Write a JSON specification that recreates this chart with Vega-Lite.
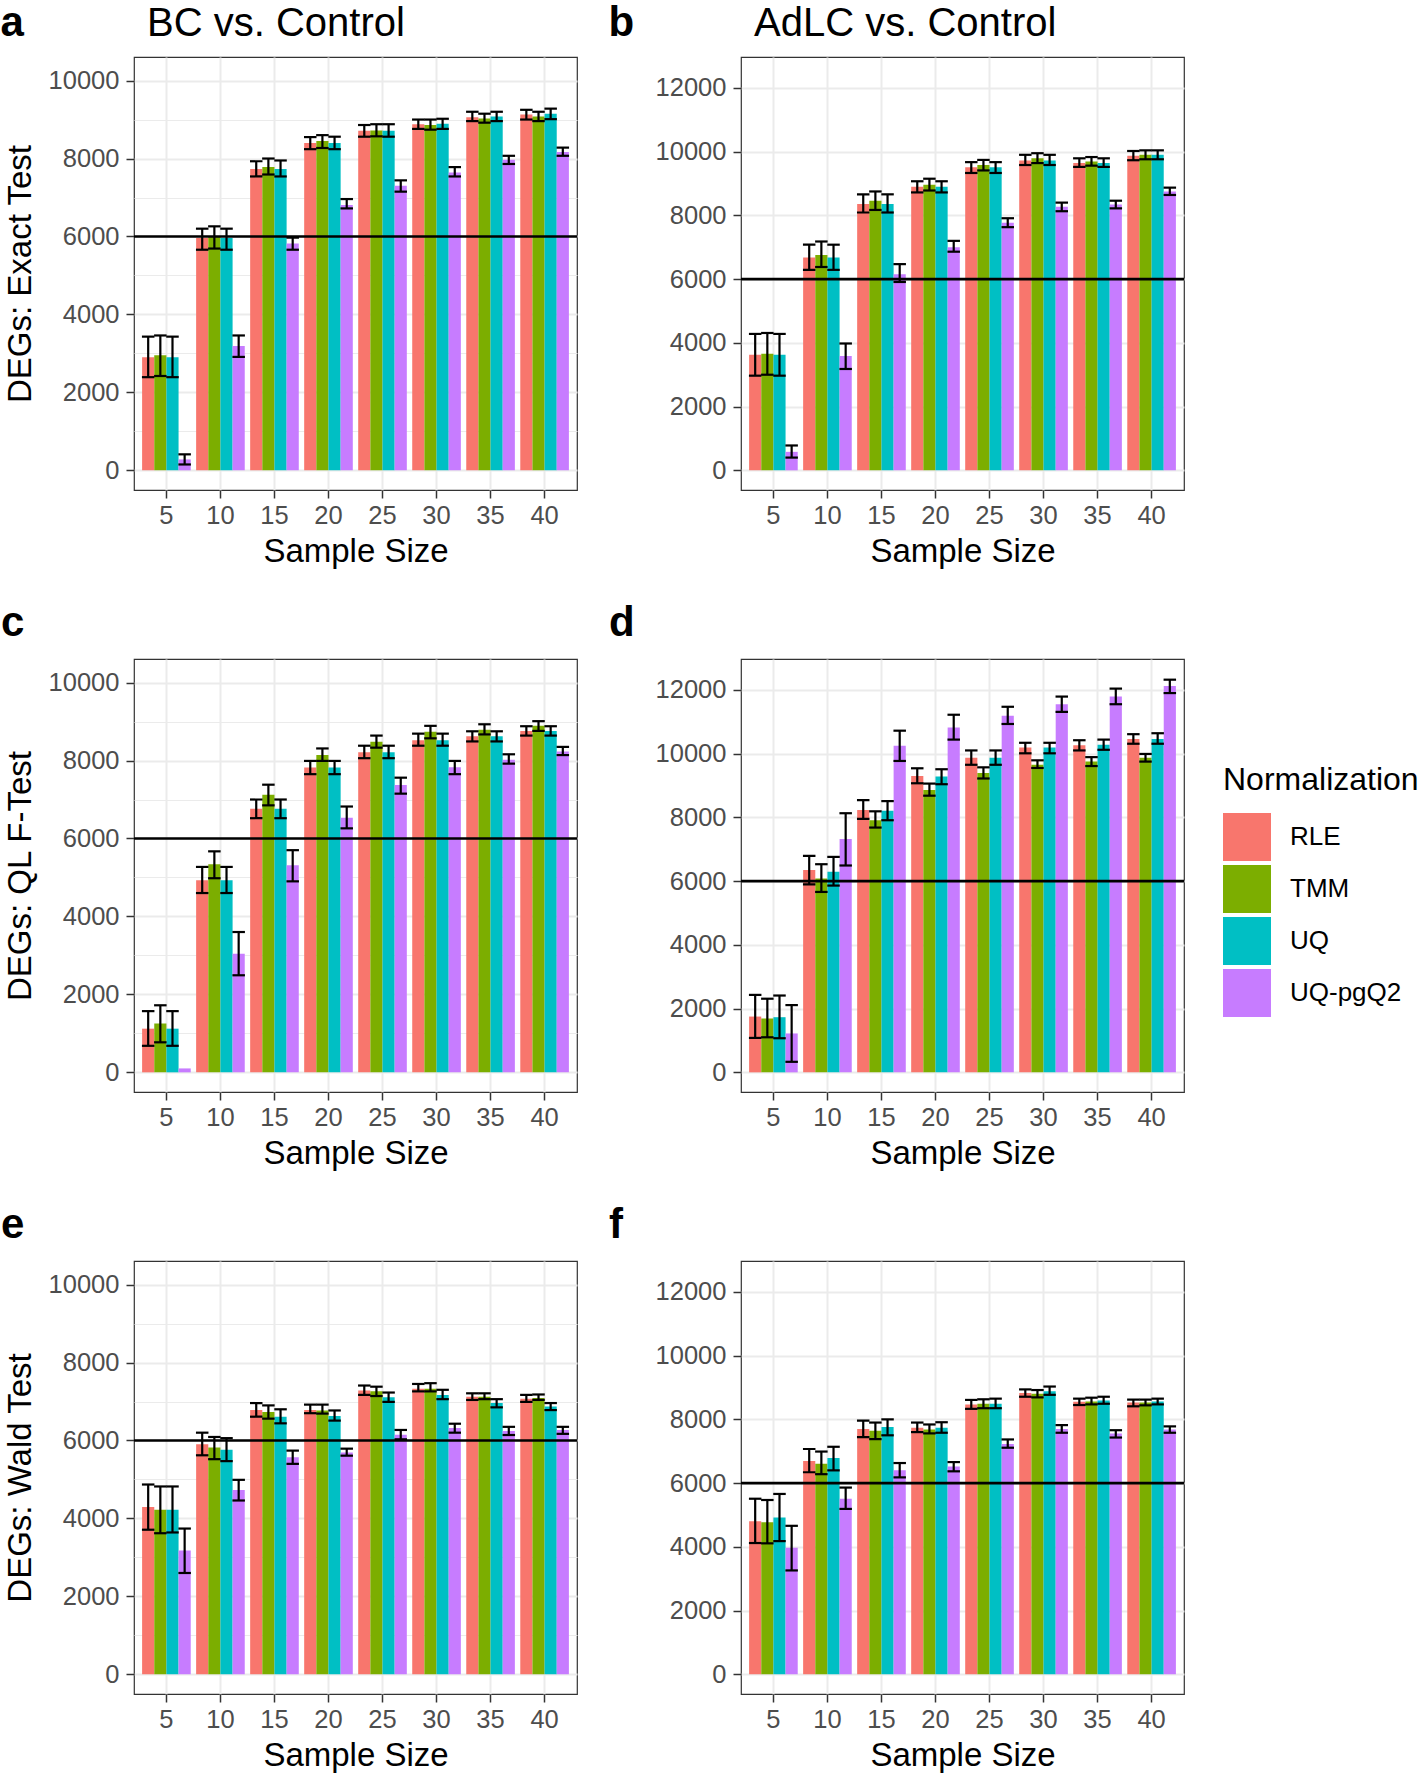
{
"$schema": "https://vega.github.io/schema/vega-lite/v6.json",
"padding": {"left": 0, "top": 2, "right": 0, "bottom": 0},
"background": "white",
"config": {
  "font": "Liberation Sans",
  "view": {"stroke": "#333333", "strokeWidth": 1.2},
  "axis": {"gridColor": "#EBEBEB", "tickColor": "#333333", "tickSize": 8, "tickWidth": 1.5, "labelFontSize": 25.5, "labelColor": "#4D4D4D", "labelPadding": 7, "titleFontSize": 33, "titleFontWeight": "normal", "titleColor": "black", "domain": false},
  "axisX": {"titlePadding": 7, "labelPadding": 5},
  "axisY": {"titlePadding": 11},
  "title": {"color": "black"}
},
"datasets": {
"deg": [
{"p":"a","n":5,"g":"RLE","m":2900,"lo":2390,"hi":3430},
{"p":"a","n":5,"g":"TMM","m":2950,"lo":2420,"hi":3460},
{"p":"a","n":5,"g":"UQ","m":2900,"lo":2390,"hi":3430},
{"p":"a","n":5,"g":"UQ-pgQ2","m":280,"lo":150,"hi":410},
{"p":"a","n":10,"g":"RLE","m":5960,"lo":5660,"hi":6200},
{"p":"a","n":10,"g":"TMM","m":6000,"lo":5690,"hi":6260},
{"p":"a","n":10,"g":"UQ","m":5960,"lo":5660,"hi":6200},
{"p":"a","n":10,"g":"UQ-pgQ2","m":3190,"lo":2910,"hi":3460},
{"p":"a","n":15,"g":"RLE","m":7730,"lo":7540,"hi":7930},
{"p":"a","n":15,"g":"TMM","m":7780,"lo":7590,"hi":8000},
{"p":"a","n":15,"g":"UQ","m":7730,"lo":7540,"hi":7950},
{"p":"a","n":15,"g":"UQ-pgQ2","m":5820,"lo":5660,"hi":5970},
{"p":"a","n":20,"g":"RLE","m":8400,"lo":8240,"hi":8550},
{"p":"a","n":20,"g":"TMM","m":8450,"lo":8270,"hi":8600},
{"p":"a","n":20,"g":"UQ","m":8400,"lo":8240,"hi":8560},
{"p":"a","n":20,"g":"UQ-pgQ2","m":6810,"lo":6720,"hi":6960},
{"p":"a","n":25,"g":"RLE","m":8710,"lo":8560,"hi":8860},
{"p":"a","n":25,"g":"TMM","m":8720,"lo":8570,"hi":8880},
{"p":"a","n":25,"g":"UQ","m":8710,"lo":8560,"hi":8880},
{"p":"a","n":25,"g":"UQ-pgQ2","m":7300,"lo":7150,"hi":7440},
{"p":"a","n":30,"g":"RLE","m":8880,"lo":8760,"hi":9000},
{"p":"a","n":30,"g":"TMM","m":8860,"lo":8740,"hi":9000},
{"p":"a","n":30,"g":"UQ","m":8890,"lo":8760,"hi":9020},
{"p":"a","n":30,"g":"UQ-pgQ2","m":7640,"lo":7540,"hi":7780},
{"p":"a","n":35,"g":"RLE","m":9060,"lo":8960,"hi":9200},
{"p":"a","n":35,"g":"TMM","m":9030,"lo":8920,"hi":9150},
{"p":"a","n":35,"g":"UQ","m":9080,"lo":8960,"hi":9200},
{"p":"a","n":35,"g":"UQ-pgQ2","m":7970,"lo":7860,"hi":8070},
{"p":"a","n":40,"g":"RLE","m":9130,"lo":9000,"hi":9250},
{"p":"a","n":40,"g":"TMM","m":9080,"lo":8960,"hi":9200},
{"p":"a","n":40,"g":"UQ","m":9150,"lo":9010,"hi":9280},
{"p":"a","n":40,"g":"UQ-pgQ2","m":8170,"lo":8070,"hi":8280},
{"p":"b","n":5,"g":"RLE","m":3630,"lo":2970,"hi":4280},
{"p":"b","n":5,"g":"TMM","m":3660,"lo":3000,"hi":4310},
{"p":"b","n":5,"g":"UQ","m":3630,"lo":2970,"hi":4280},
{"p":"b","n":5,"g":"UQ-pgQ2","m":580,"lo":400,"hi":780},
{"p":"b","n":10,"g":"RLE","m":6680,"lo":6290,"hi":7080},
{"p":"b","n":10,"g":"TMM","m":6760,"lo":6380,"hi":7180},
{"p":"b","n":10,"g":"UQ","m":6680,"lo":6290,"hi":7080},
{"p":"b","n":10,"g":"UQ-pgQ2","m":3590,"lo":3180,"hi":3980},
{"p":"b","n":15,"g":"RLE","m":8360,"lo":8090,"hi":8660},
{"p":"b","n":15,"g":"TMM","m":8460,"lo":8170,"hi":8750},
{"p":"b","n":15,"g":"UQ","m":8360,"lo":8090,"hi":8660},
{"p":"b","n":15,"g":"UQ-pgQ2","m":6150,"lo":5910,"hi":6470},
{"p":"b","n":20,"g":"RLE","m":8900,"lo":8720,"hi":9070},
{"p":"b","n":20,"g":"TMM","m":8960,"lo":8780,"hi":9150},
{"p":"b","n":20,"g":"UQ","m":8900,"lo":8720,"hi":9070},
{"p":"b","n":20,"g":"UQ-pgQ2","m":7000,"lo":6860,"hi":7200},
{"p":"b","n":25,"g":"RLE","m":9510,"lo":9330,"hi":9670},
{"p":"b","n":25,"g":"TMM","m":9580,"lo":9410,"hi":9740},
{"p":"b","n":25,"g":"UQ","m":9510,"lo":9330,"hi":9670},
{"p":"b","n":25,"g":"UQ-pgQ2","m":7770,"lo":7630,"hi":7910},
{"p":"b","n":30,"g":"RLE","m":9720,"lo":9580,"hi":9900},
{"p":"b","n":30,"g":"TMM","m":9790,"lo":9640,"hi":9950},
{"p":"b","n":30,"g":"UQ","m":9720,"lo":9580,"hi":9900},
{"p":"b","n":30,"g":"UQ-pgQ2","m":8270,"lo":8130,"hi":8400},
{"p":"b","n":35,"g":"RLE","m":9640,"lo":9520,"hi":9790},
{"p":"b","n":35,"g":"TMM","m":9690,"lo":9560,"hi":9830},
{"p":"b","n":35,"g":"UQ","m":9640,"lo":9520,"hi":9790},
{"p":"b","n":35,"g":"UQ-pgQ2","m":8340,"lo":8220,"hi":8460},
{"p":"b","n":40,"g":"RLE","m":9870,"lo":9730,"hi":10020},
{"p":"b","n":40,"g":"TMM","m":9900,"lo":9760,"hi":10040},
{"p":"b","n":40,"g":"UQ","m":9900,"lo":9760,"hi":10040},
{"p":"b","n":40,"g":"UQ-pgQ2","m":8750,"lo":8640,"hi":8870},
{"p":"c","n":5,"g":"RLE","m":1120,"lo":680,"hi":1570},
{"p":"c","n":5,"g":"TMM","m":1250,"lo":770,"hi":1720},
{"p":"c","n":5,"g":"UQ","m":1120,"lo":680,"hi":1570},
{"p":"c","n":5,"g":"UQ-pgQ2","m":100,"lo":null,"hi":null},
{"p":"c","n":10,"g":"RLE","m":4930,"lo":4600,"hi":5270},
{"p":"c","n":10,"g":"TMM","m":5340,"lo":4980,"hi":5670},
{"p":"c","n":10,"g":"UQ","m":4930,"lo":4600,"hi":5270},
{"p":"c","n":10,"g":"UQ-pgQ2","m":3040,"lo":2490,"hi":3600},
{"p":"c","n":15,"g":"RLE","m":6760,"lo":6520,"hi":7000},
{"p":"c","n":15,"g":"TMM","m":7120,"lo":6850,"hi":7380},
{"p":"c","n":15,"g":"UQ","m":6760,"lo":6520,"hi":7000},
{"p":"c","n":15,"g":"UQ-pgQ2","m":5310,"lo":4900,"hi":5700},
{"p":"c","n":20,"g":"RLE","m":7820,"lo":7650,"hi":7990},
{"p":"c","n":20,"g":"TMM","m":8140,"lo":7990,"hi":8310},
{"p":"c","n":20,"g":"UQ","m":7820,"lo":7650,"hi":7990},
{"p":"c","n":20,"g":"UQ-pgQ2","m":6530,"lo":6260,"hi":6820},
{"p":"c","n":25,"g":"RLE","m":8210,"lo":8060,"hi":8380},
{"p":"c","n":25,"g":"TMM","m":8480,"lo":8330,"hi":8640},
{"p":"c","n":25,"g":"UQ","m":8210,"lo":8060,"hi":8380},
{"p":"c","n":25,"g":"UQ-pgQ2","m":7370,"lo":7150,"hi":7560},
{"p":"c","n":30,"g":"RLE","m":8520,"lo":8380,"hi":8690},
{"p":"c","n":30,"g":"TMM","m":8740,"lo":8570,"hi":8890},
{"p":"c","n":30,"g":"UQ","m":8520,"lo":8380,"hi":8690},
{"p":"c","n":30,"g":"UQ-pgQ2","m":7830,"lo":7650,"hi":7990},
{"p":"c","n":35,"g":"RLE","m":8620,"lo":8490,"hi":8750},
{"p":"c","n":35,"g":"TMM","m":8790,"lo":8670,"hi":8930},
{"p":"c","n":35,"g":"UQ","m":8620,"lo":8490,"hi":8750},
{"p":"c","n":35,"g":"UQ-pgQ2","m":8020,"lo":7920,"hi":8160},
{"p":"c","n":40,"g":"RLE","m":8760,"lo":8640,"hi":8880},
{"p":"c","n":40,"g":"TMM","m":8890,"lo":8760,"hi":9010},
{"p":"c","n":40,"g":"UQ","m":8760,"lo":8640,"hi":8880},
{"p":"c","n":40,"g":"UQ-pgQ2","m":8230,"lo":8140,"hi":8350},
{"p":"d","n":5,"g":"RLE","m":1750,"lo":1080,"hi":2430},
{"p":"d","n":5,"g":"TMM","m":1690,"lo":1100,"hi":2310},
{"p":"d","n":5,"g":"UQ","m":1730,"lo":1070,"hi":2410},
{"p":"d","n":5,"g":"UQ-pgQ2","m":1220,"lo":330,"hi":2110},
{"p":"d","n":10,"g":"RLE","m":6350,"lo":5900,"hi":6790},
{"p":"d","n":10,"g":"TMM","m":6080,"lo":5660,"hi":6530},
{"p":"d","n":10,"g":"UQ","m":6290,"lo":5860,"hi":6760},
{"p":"d","n":10,"g":"UQ-pgQ2","m":7320,"lo":6490,"hi":8130},
{"p":"d","n":15,"g":"RLE","m":8230,"lo":7950,"hi":8540},
{"p":"d","n":15,"g":"TMM","m":7910,"lo":7680,"hi":8190},
{"p":"d","n":15,"g":"UQ","m":8210,"lo":7910,"hi":8510},
{"p":"d","n":15,"g":"UQ-pgQ2","m":10250,"lo":9770,"hi":10720},
{"p":"d","n":20,"g":"RLE","m":9300,"lo":9070,"hi":9540},
{"p":"d","n":20,"g":"TMM","m":8860,"lo":8680,"hi":9060},
{"p":"d","n":20,"g":"UQ","m":9280,"lo":9040,"hi":9510},
{"p":"d","n":20,"g":"UQ-pgQ2","m":10820,"lo":10440,"hi":11220},
{"p":"d","n":25,"g":"RLE","m":9870,"lo":9650,"hi":10100},
{"p":"d","n":25,"g":"TMM","m":9390,"lo":9220,"hi":9570},
{"p":"d","n":25,"g":"UQ","m":9870,"lo":9650,"hi":10100},
{"p":"d","n":25,"g":"UQ-pgQ2","m":11190,"lo":10930,"hi":11470},
{"p":"d","n":30,"g":"RLE","m":10190,"lo":10010,"hi":10340},
{"p":"d","n":30,"g":"TMM","m":9650,"lo":9550,"hi":9790},
{"p":"d","n":30,"g":"UQ","m":10190,"lo":10010,"hi":10340},
{"p":"d","n":30,"g":"UQ-pgQ2","m":11550,"lo":11310,"hi":11790},
{"p":"d","n":35,"g":"RLE","m":10260,"lo":10100,"hi":10420},
{"p":"d","n":35,"g":"TMM","m":9750,"lo":9610,"hi":9890},
{"p":"d","n":35,"g":"UQ","m":10280,"lo":10120,"hi":10440},
{"p":"d","n":35,"g":"UQ-pgQ2","m":11790,"lo":11550,"hi":12040},
{"p":"d","n":40,"g":"RLE","m":10460,"lo":10310,"hi":10610},
{"p":"d","n":40,"g":"TMM","m":9870,"lo":9750,"hi":9990},
{"p":"d","n":40,"g":"UQ","m":10460,"lo":10310,"hi":10640},
{"p":"d","n":40,"g":"UQ-pgQ2","m":12120,"lo":11900,"hi":12320},
{"p":"e","n":5,"g":"RLE","m":4290,"lo":3710,"hi":4870},
{"p":"e","n":5,"g":"TMM","m":4220,"lo":3620,"hi":4820},
{"p":"e","n":5,"g":"UQ","m":4220,"lo":3640,"hi":4820},
{"p":"e","n":5,"g":"UQ-pgQ2","m":3180,"lo":2600,"hi":3740},
{"p":"e","n":10,"g":"RLE","m":5900,"lo":5620,"hi":6200},
{"p":"e","n":10,"g":"TMM","m":5820,"lo":5520,"hi":6090},
{"p":"e","n":10,"g":"UQ","m":5760,"lo":5470,"hi":6060},
{"p":"e","n":10,"g":"UQ-pgQ2","m":4730,"lo":4460,"hi":4990},
{"p":"e","n":15,"g":"RLE","m":6780,"lo":6610,"hi":6960},
{"p":"e","n":15,"g":"TMM","m":6730,"lo":6560,"hi":6900},
{"p":"e","n":15,"g":"UQ","m":6610,"lo":6440,"hi":6800},
{"p":"e","n":15,"g":"UQ-pgQ2","m":5570,"lo":5400,"hi":5740},
{"p":"e","n":20,"g":"RLE","m":6780,"lo":6700,"hi":6920},
{"p":"e","n":20,"g":"TMM","m":6770,"lo":6690,"hi":6920},
{"p":"e","n":20,"g":"UQ","m":6630,"lo":6510,"hi":6770},
{"p":"e","n":20,"g":"UQ-pgQ2","m":5690,"lo":5610,"hi":5790},
{"p":"e","n":25,"g":"RLE","m":7280,"lo":7170,"hi":7410},
{"p":"e","n":25,"g":"TMM","m":7260,"lo":7140,"hi":7380},
{"p":"e","n":25,"g":"UQ","m":7110,"lo":6990,"hi":7230},
{"p":"e","n":25,"g":"UQ-pgQ2","m":6150,"lo":6030,"hi":6270},
{"p":"e","n":30,"g":"RLE","m":7330,"lo":7260,"hi":7450},
{"p":"e","n":30,"g":"TMM","m":7330,"lo":7260,"hi":7470},
{"p":"e","n":30,"g":"UQ","m":7170,"lo":7060,"hi":7300},
{"p":"e","n":30,"g":"UQ-pgQ2","m":6320,"lo":6200,"hi":6430},
{"p":"e","n":35,"g":"RLE","m":7120,"lo":7040,"hi":7210},
{"p":"e","n":35,"g":"TMM","m":7120,"lo":7060,"hi":7210},
{"p":"e","n":35,"g":"UQ","m":6960,"lo":6850,"hi":7060},
{"p":"e","n":35,"g":"UQ-pgQ2","m":6240,"lo":6140,"hi":6350},
{"p":"e","n":40,"g":"RLE","m":7070,"lo":6990,"hi":7170},
{"p":"e","n":40,"g":"TMM","m":7090,"lo":7040,"hi":7180},
{"p":"e","n":40,"g":"UQ","m":6870,"lo":6780,"hi":6960},
{"p":"e","n":40,"g":"UQ-pgQ2","m":6270,"lo":6170,"hi":6350},
{"p":"f","n":5,"g":"RLE","m":4800,"lo":4120,"hi":5510},
{"p":"f","n":5,"g":"TMM","m":4770,"lo":4110,"hi":5470},
{"p":"f","n":5,"g":"UQ","m":4920,"lo":4180,"hi":5660},
{"p":"f","n":5,"g":"UQ-pgQ2","m":3970,"lo":3260,"hi":4660},
{"p":"f","n":10,"g":"RLE","m":6690,"lo":6340,"hi":7070},
{"p":"f","n":10,"g":"TMM","m":6610,"lo":6280,"hi":6990},
{"p":"f","n":10,"g":"UQ","m":6790,"lo":6400,"hi":7140},
{"p":"f","n":10,"g":"UQ-pgQ2","m":5510,"lo":5190,"hi":5860},
{"p":"f","n":15,"g":"RLE","m":7700,"lo":7440,"hi":7960},
{"p":"f","n":15,"g":"TMM","m":7640,"lo":7380,"hi":7900},
{"p":"f","n":15,"g":"UQ","m":7760,"lo":7500,"hi":8000},
{"p":"f","n":15,"g":"UQ-pgQ2","m":6400,"lo":6180,"hi":6630},
{"p":"f","n":20,"g":"RLE","m":7740,"lo":7600,"hi":7900},
{"p":"f","n":20,"g":"TMM","m":7680,"lo":7560,"hi":7840},
{"p":"f","n":20,"g":"UQ","m":7740,"lo":7580,"hi":7910},
{"p":"f","n":20,"g":"UQ-pgQ2","m":6520,"lo":6370,"hi":6660},
{"p":"f","n":25,"g":"RLE","m":8470,"lo":8330,"hi":8610},
{"p":"f","n":25,"g":"TMM","m":8490,"lo":8350,"hi":8630},
{"p":"f","n":25,"g":"UQ","m":8490,"lo":8350,"hi":8650},
{"p":"f","n":25,"g":"UQ-pgQ2","m":7230,"lo":7110,"hi":7370},
{"p":"f","n":30,"g":"RLE","m":8830,"lo":8710,"hi":8940},
{"p":"f","n":30,"g":"TMM","m":8800,"lo":8690,"hi":8920},
{"p":"f","n":30,"g":"UQ","m":8880,"lo":8770,"hi":9030},
{"p":"f","n":30,"g":"UQ-pgQ2","m":7700,"lo":7580,"hi":7820},
{"p":"f","n":35,"g":"RLE","m":8550,"lo":8450,"hi":8650},
{"p":"f","n":35,"g":"TMM","m":8560,"lo":8470,"hi":8680},
{"p":"f","n":35,"g":"UQ","m":8590,"lo":8490,"hi":8710},
{"p":"f","n":35,"g":"UQ-pgQ2","m":7560,"lo":7430,"hi":7660},
{"p":"f","n":40,"g":"RLE","m":8530,"lo":8410,"hi":8620},
{"p":"f","n":40,"g":"TMM","m":8530,"lo":8440,"hi":8620},
{"p":"f","n":40,"g":"UQ","m":8560,"lo":8470,"hi":8650},
{"p":"f","n":40,"g":"UQ-pgQ2","m":7680,"lo":7580,"hi":7780}
]
},
"spacing": 31,
"vconcat": [
{
"spacing": 29,
"hconcat": [
{
"title": {"text": "a", "anchor": "start", "frame": "bounds", "fontSize": 42, "fontWeight": "bold", "baseline": "alphabetic", "offset": -75, "dx": -3},
"vconcat": [
{
"width": 443, "height": 433,
"title": {"text": "BC vs. Control", "anchor": "start", "frame": "group", "fontSize": 40, "fontWeight": "normal", "baseline": "alphabetic", "offset": -19, "dx": 13},
"data": {"name": "deg"},
"layer": [
{"transform": [{"filter": "datum.p === 'a'"}], "mark": {"type": "bar"},
 "encoding": {
  "x": {"field": "n", "type": "ordinal", "title": "Sample Size", "scale": {"type": "band", "paddingInner": 0.1, "paddingOuter": 0.15}, "axis": {"labelAngle": 0, "bandPosition": 0.5, "grid": true, "gridWidth": 2}},
  "xOffset": {"field": "g", "type": "nominal", "scale": {"domain": ["RLE","TMM","UQ","UQ-pgQ2"], "paddingInner": 0, "paddingOuter": 0}},
  "y": {"field": "m", "type": "quantitative", "title": "DEGs: Exact Test", "scale": {"domain": [-505, 10605], "nice": false}, "axis": {"values": [0,1000,2000,3000,4000,5000,6000,7000,8000,9000,10000], "format": "d", "labelExpr": "datum.value % 2000 === 0 ? datum.label : ''", "grid": true, "gridWidth": {"condition": {"test": "datum.value % 2000 !== 0", "value": 1}, "value": 2}, "tickOpacity": {"condition": {"test": "datum.value % 2000 !== 0", "value": 0}, "value": 1}}},
  "y2": {"datum": 0},
  "color": {"field": "g", "type": "nominal", "scale": {"domain": ["RLE","TMM","UQ","UQ-pgQ2"], "range": ["#F8766D","#7CAE00","#00BFC4","#C77CFF"]}}
 }},
{"data": {"values": [{"v": 6000}]}, "mark": {"type": "rule", "color": "black", "strokeWidth": 2.6},
 "encoding": {"y": {"field": "v", "type": "quantitative", "title": "DEGs: Exact Test"}}},
{"transform": [{"filter": "datum.p === 'a'"}], "mark": {"type": "rule", "color": "black", "strokeWidth": 2.2},
 "encoding": {
  "x": {"field": "n", "type": "ordinal", "title": "Sample Size", "scale": {"type": "band"}},
  "xOffset": {"field": "g", "type": "nominal"},
  "y": {"field": "lo", "type": "quantitative", "title": "DEGs: Exact Test"}, "y2": {"field": "hi"}}},
{"transform": [{"filter": "datum.p === 'a'"}], "mark": {"type": "tick", "orient": "horizontal", "color": "black", "size": 12.5, "thickness": 2.2, "opacity": 1},
 "encoding": {
  "x": {"field": "n", "type": "ordinal", "title": "Sample Size", "scale": {"type": "band"}},
  "xOffset": {"field": "g", "type": "nominal"},
  "y": {"field": "hi", "type": "quantitative", "title": "DEGs: Exact Test"}}},
{"transform": [{"filter": "datum.p === 'a'"}], "mark": {"type": "tick", "orient": "horizontal", "color": "black", "size": 12.5, "thickness": 2.2, "opacity": 1},
 "encoding": {
  "x": {"field": "n", "type": "ordinal", "title": "Sample Size", "scale": {"type": "band"}},
  "xOffset": {"field": "g", "type": "nominal"},
  "y": {"field": "lo", "type": "quantitative", "title": "DEGs: Exact Test"}}}
]
}
]
},
{
"title": {"text": "b", "anchor": "start", "frame": "bounds", "fontSize": 42, "fontWeight": "bold", "baseline": "alphabetic", "offset": -75, "dx": -46},
"vconcat": [
{
"width": 443, "height": 433,
"title": {"text": "AdLC vs. Control", "anchor": "start", "frame": "group", "fontSize": 40, "fontWeight": "normal", "baseline": "alphabetic", "offset": -19, "dx": 13},
"data": {"name": "deg"},
"layer": [
{"transform": [{"filter": "datum.p === 'b'"}], "mark": {"type": "bar"},
 "encoding": {
  "x": {"field": "n", "type": "ordinal", "title": "Sample Size", "scale": {"type": "band", "paddingInner": 0.1, "paddingOuter": 0.15}, "axis": {"labelAngle": 0, "bandPosition": 0.5, "grid": true, "gridWidth": 2}},
  "xOffset": {"field": "g", "type": "nominal", "scale": {"domain": ["RLE","TMM","UQ","UQ-pgQ2"], "paddingInner": 0, "paddingOuter": 0}},
  "y": {"field": "m", "type": "quantitative", "title": null, "scale": {"domain": [-617, 12969], "nice": false}, "axis": {"values": [0,1000,2000,3000,4000,5000,6000,7000,8000,9000,10000,11000,12000], "format": "d", "labelExpr": "datum.value % 2000 === 0 ? datum.label : ''", "grid": true, "gridWidth": {"condition": {"test": "datum.value % 2000 !== 0", "value": 1}, "value": 2}, "tickOpacity": {"condition": {"test": "datum.value % 2000 !== 0", "value": 0}, "value": 1}}},
  "y2": {"datum": 0},
  "color": {"field": "g", "type": "nominal", "scale": {"domain": ["RLE","TMM","UQ","UQ-pgQ2"], "range": ["#F8766D","#7CAE00","#00BFC4","#C77CFF"]}}
 }},
{"data": {"values": [{"v": 6000}]}, "mark": {"type": "rule", "color": "black", "strokeWidth": 2.6},
 "encoding": {"y": {"field": "v", "type": "quantitative", "title": null}}},
{"transform": [{"filter": "datum.p === 'b'"}], "mark": {"type": "rule", "color": "black", "strokeWidth": 2.2},
 "encoding": {
  "x": {"field": "n", "type": "ordinal", "title": "Sample Size", "scale": {"type": "band"}},
  "xOffset": {"field": "g", "type": "nominal"},
  "y": {"field": "lo", "type": "quantitative", "title": null}, "y2": {"field": "hi"}}},
{"transform": [{"filter": "datum.p === 'b'"}], "mark": {"type": "tick", "orient": "horizontal", "color": "black", "size": 12.5, "thickness": 2.2, "opacity": 1},
 "encoding": {
  "x": {"field": "n", "type": "ordinal", "title": "Sample Size", "scale": {"type": "band"}},
  "xOffset": {"field": "g", "type": "nominal"},
  "y": {"field": "hi", "type": "quantitative", "title": null}}},
{"transform": [{"filter": "datum.p === 'b'"}], "mark": {"type": "tick", "orient": "horizontal", "color": "black", "size": 12.5, "thickness": 2.2, "opacity": 1},
 "encoding": {
  "x": {"field": "n", "type": "ordinal", "title": "Sample Size", "scale": {"type": "band"}},
  "xOffset": {"field": "g", "type": "nominal"},
  "y": {"field": "lo", "type": "quantitative", "title": null}}}
]
}
]
}
]
},
{
"spacing": 29,
"hconcat": [
{
"width": 443, "height": 433,
"title": {"text": "c", "anchor": "start", "frame": "bounds", "fontSize": 42, "fontWeight": "bold", "baseline": "alphabetic", "offset": -19, "dx": -3},
"data": {"name": "deg"},
"layer": [
{"transform": [{"filter": "datum.p === 'c'"}], "mark": {"type": "bar"},
 "encoding": {
  "x": {"field": "n", "type": "ordinal", "title": "Sample Size", "scale": {"type": "band", "paddingInner": 0.1, "paddingOuter": 0.15}, "axis": {"labelAngle": 0, "bandPosition": 0.5, "grid": true, "gridWidth": 2}},
  "xOffset": {"field": "g", "type": "nominal", "scale": {"domain": ["RLE","TMM","UQ","UQ-pgQ2"], "paddingInner": 0, "paddingOuter": 0}},
  "y": {"field": "m", "type": "quantitative", "title": "DEGs: QL F-Test", "scale": {"domain": [-505, 10605], "nice": false}, "axis": {"values": [0,1000,2000,3000,4000,5000,6000,7000,8000,9000,10000], "format": "d", "labelExpr": "datum.value % 2000 === 0 ? datum.label : ''", "grid": true, "gridWidth": {"condition": {"test": "datum.value % 2000 !== 0", "value": 1}, "value": 2}, "tickOpacity": {"condition": {"test": "datum.value % 2000 !== 0", "value": 0}, "value": 1}}},
  "y2": {"datum": 0},
  "color": {"field": "g", "type": "nominal", "scale": {"domain": ["RLE","TMM","UQ","UQ-pgQ2"], "range": ["#F8766D","#7CAE00","#00BFC4","#C77CFF"]}}
 }},
{"data": {"values": [{"v": 6000}]}, "mark": {"type": "rule", "color": "black", "strokeWidth": 2.6},
 "encoding": {"y": {"field": "v", "type": "quantitative", "title": "DEGs: QL F-Test"}}},
{"transform": [{"filter": "datum.p === 'c' && datum.lo != null"}], "mark": {"type": "rule", "color": "black", "strokeWidth": 2.2},
 "encoding": {
  "x": {"field": "n", "type": "ordinal", "title": "Sample Size", "scale": {"type": "band"}},
  "xOffset": {"field": "g", "type": "nominal"},
  "y": {"field": "lo", "type": "quantitative", "title": "DEGs: QL F-Test"}, "y2": {"field": "hi"}}},
{"transform": [{"filter": "datum.p === 'c' && datum.lo != null"}], "mark": {"type": "tick", "orient": "horizontal", "color": "black", "size": 12.5, "thickness": 2.2, "opacity": 1},
 "encoding": {
  "x": {"field": "n", "type": "ordinal", "title": "Sample Size", "scale": {"type": "band"}},
  "xOffset": {"field": "g", "type": "nominal"},
  "y": {"field": "hi", "type": "quantitative", "title": "DEGs: QL F-Test"}}},
{"transform": [{"filter": "datum.p === 'c' && datum.lo != null"}], "mark": {"type": "tick", "orient": "horizontal", "color": "black", "size": 12.5, "thickness": 2.2, "opacity": 1},
 "encoding": {
  "x": {"field": "n", "type": "ordinal", "title": "Sample Size", "scale": {"type": "band"}},
  "xOffset": {"field": "g", "type": "nominal"},
  "y": {"field": "lo", "type": "quantitative", "title": "DEGs: QL F-Test"}}}
]
},
{
"width": 443, "height": 433,
"title": {"text": "d", "anchor": "start", "frame": "bounds", "fontSize": 42, "fontWeight": "bold", "baseline": "alphabetic", "offset": -19, "dx": -46},
"data": {"name": "deg"},
"layer": [
{"transform": [{"filter": "datum.p === 'd'"}], "mark": {"type": "bar"},
 "encoding": {
  "x": {"field": "n", "type": "ordinal", "title": "Sample Size", "scale": {"type": "band", "paddingInner": 0.1, "paddingOuter": 0.15}, "axis": {"labelAngle": 0, "bandPosition": 0.5, "grid": true, "gridWidth": 2}},
  "xOffset": {"field": "g", "type": "nominal", "scale": {"domain": ["RLE","TMM","UQ","UQ-pgQ2"], "paddingInner": 0, "paddingOuter": 0}},
  "y": {"field": "m", "type": "quantitative", "title": null, "scale": {"domain": [-617, 12969], "nice": false}, "axis": {"values": [0,1000,2000,3000,4000,5000,6000,7000,8000,9000,10000,11000,12000], "format": "d", "labelExpr": "datum.value % 2000 === 0 ? datum.label : ''", "grid": true, "gridWidth": {"condition": {"test": "datum.value % 2000 !== 0", "value": 1}, "value": 2}, "tickOpacity": {"condition": {"test": "datum.value % 2000 !== 0", "value": 0}, "value": 1}}},
  "y2": {"datum": 0},
  "color": {"field": "g", "type": "nominal", "scale": {"domain": ["RLE","TMM","UQ","UQ-pgQ2"], "range": ["#F8766D","#7CAE00","#00BFC4","#C77CFF"]},
    "legend": {"title": "Normalization", "orient": "none", "legendX": 1089, "legendY": 708, "symbolType": "square", "symbolSize": 2304, "symbolStrokeWidth": 0, "symbolOpacity": 1, "labelFontSize": 26, "labelColor": "black", "labelOffset": 19, "titleFontSize": 32, "titleFontWeight": "normal", "titleColor": "black", "titlePadding": 16, "titleLimit": 500, "rowPadding": 4, "padding": 0}}
 }},
{"data": {"values": [{"v": 6000}]}, "mark": {"type": "rule", "color": "black", "strokeWidth": 2.6},
 "encoding": {"y": {"field": "v", "type": "quantitative", "title": null}}},
{"transform": [{"filter": "datum.p === 'd'"}], "mark": {"type": "rule", "color": "black", "strokeWidth": 2.2},
 "encoding": {
  "x": {"field": "n", "type": "ordinal", "title": "Sample Size", "scale": {"type": "band"}},
  "xOffset": {"field": "g", "type": "nominal"},
  "y": {"field": "lo", "type": "quantitative", "title": null}, "y2": {"field": "hi"}}},
{"transform": [{"filter": "datum.p === 'd'"}], "mark": {"type": "tick", "orient": "horizontal", "color": "black", "size": 12.5, "thickness": 2.2, "opacity": 1},
 "encoding": {
  "x": {"field": "n", "type": "ordinal", "title": "Sample Size", "scale": {"type": "band"}},
  "xOffset": {"field": "g", "type": "nominal"},
  "y": {"field": "hi", "type": "quantitative", "title": null}}},
{"transform": [{"filter": "datum.p === 'd'"}], "mark": {"type": "tick", "orient": "horizontal", "color": "black", "size": 12.5, "thickness": 2.2, "opacity": 1},
 "encoding": {
  "x": {"field": "n", "type": "ordinal", "title": "Sample Size", "scale": {"type": "band"}},
  "xOffset": {"field": "g", "type": "nominal"},
  "y": {"field": "lo", "type": "quantitative", "title": null}}}
]
}
]
},
{
"spacing": 29,
"hconcat": [
{
"width": 443, "height": 433,
"title": {"text": "e", "anchor": "start", "frame": "bounds", "fontSize": 42, "fontWeight": "bold", "baseline": "alphabetic", "offset": -19, "dx": -3},
"data": {"name": "deg"},
"layer": [
{"transform": [{"filter": "datum.p === 'e'"}], "mark": {"type": "bar"},
 "encoding": {
  "x": {"field": "n", "type": "ordinal", "title": "Sample Size", "scale": {"type": "band", "paddingInner": 0.1, "paddingOuter": 0.15}, "axis": {"labelAngle": 0, "bandPosition": 0.5, "grid": true, "gridWidth": 2}},
  "xOffset": {"field": "g", "type": "nominal", "scale": {"domain": ["RLE","TMM","UQ","UQ-pgQ2"], "paddingInner": 0, "paddingOuter": 0}},
  "y": {"field": "m", "type": "quantitative", "title": "DEGs: Wald Test", "scale": {"domain": [-505, 10605], "nice": false}, "axis": {"values": [0,1000,2000,3000,4000,5000,6000,7000,8000,9000,10000], "format": "d", "labelExpr": "datum.value % 2000 === 0 ? datum.label : ''", "grid": true, "gridWidth": {"condition": {"test": "datum.value % 2000 !== 0", "value": 1}, "value": 2}, "tickOpacity": {"condition": {"test": "datum.value % 2000 !== 0", "value": 0}, "value": 1}}},
  "y2": {"datum": 0},
  "color": {"field": "g", "type": "nominal", "scale": {"domain": ["RLE","TMM","UQ","UQ-pgQ2"], "range": ["#F8766D","#7CAE00","#00BFC4","#C77CFF"]}}
 }},
{"data": {"values": [{"v": 6000}]}, "mark": {"type": "rule", "color": "black", "strokeWidth": 2.6},
 "encoding": {"y": {"field": "v", "type": "quantitative", "title": "DEGs: Wald Test"}}},
{"transform": [{"filter": "datum.p === 'e'"}], "mark": {"type": "rule", "color": "black", "strokeWidth": 2.2},
 "encoding": {
  "x": {"field": "n", "type": "ordinal", "title": "Sample Size", "scale": {"type": "band"}},
  "xOffset": {"field": "g", "type": "nominal"},
  "y": {"field": "lo", "type": "quantitative", "title": "DEGs: Wald Test"}, "y2": {"field": "hi"}}},
{"transform": [{"filter": "datum.p === 'e'"}], "mark": {"type": "tick", "orient": "horizontal", "color": "black", "size": 12.5, "thickness": 2.2, "opacity": 1},
 "encoding": {
  "x": {"field": "n", "type": "ordinal", "title": "Sample Size", "scale": {"type": "band"}},
  "xOffset": {"field": "g", "type": "nominal"},
  "y": {"field": "hi", "type": "quantitative", "title": "DEGs: Wald Test"}}},
{"transform": [{"filter": "datum.p === 'e'"}], "mark": {"type": "tick", "orient": "horizontal", "color": "black", "size": 12.5, "thickness": 2.2, "opacity": 1},
 "encoding": {
  "x": {"field": "n", "type": "ordinal", "title": "Sample Size", "scale": {"type": "band"}},
  "xOffset": {"field": "g", "type": "nominal"},
  "y": {"field": "lo", "type": "quantitative", "title": "DEGs: Wald Test"}}}
]
},
{
"width": 443, "height": 433,
"title": {"text": "f", "anchor": "start", "frame": "bounds", "fontSize": 42, "fontWeight": "bold", "baseline": "alphabetic", "offset": -19, "dx": -46},
"data": {"name": "deg"},
"layer": [
{"transform": [{"filter": "datum.p === 'f'"}], "mark": {"type": "bar"},
 "encoding": {
  "x": {"field": "n", "type": "ordinal", "title": "Sample Size", "scale": {"type": "band", "paddingInner": 0.1, "paddingOuter": 0.15}, "axis": {"labelAngle": 0, "bandPosition": 0.5, "grid": true, "gridWidth": 2}},
  "xOffset": {"field": "g", "type": "nominal", "scale": {"domain": ["RLE","TMM","UQ","UQ-pgQ2"], "paddingInner": 0, "paddingOuter": 0}},
  "y": {"field": "m", "type": "quantitative", "title": null, "scale": {"domain": [-617, 12969], "nice": false}, "axis": {"values": [0,1000,2000,3000,4000,5000,6000,7000,8000,9000,10000,11000,12000], "format": "d", "labelExpr": "datum.value % 2000 === 0 ? datum.label : ''", "grid": true, "gridWidth": {"condition": {"test": "datum.value % 2000 !== 0", "value": 1}, "value": 2}, "tickOpacity": {"condition": {"test": "datum.value % 2000 !== 0", "value": 0}, "value": 1}}},
  "y2": {"datum": 0},
  "color": {"field": "g", "type": "nominal", "scale": {"domain": ["RLE","TMM","UQ","UQ-pgQ2"], "range": ["#F8766D","#7CAE00","#00BFC4","#C77CFF"]}}
 }},
{"data": {"values": [{"v": 6000}]}, "mark": {"type": "rule", "color": "black", "strokeWidth": 2.6},
 "encoding": {"y": {"field": "v", "type": "quantitative", "title": null}}},
{"transform": [{"filter": "datum.p === 'f'"}], "mark": {"type": "rule", "color": "black", "strokeWidth": 2.2},
 "encoding": {
  "x": {"field": "n", "type": "ordinal", "title": "Sample Size", "scale": {"type": "band"}},
  "xOffset": {"field": "g", "type": "nominal"},
  "y": {"field": "lo", "type": "quantitative", "title": null}, "y2": {"field": "hi"}}},
{"transform": [{"filter": "datum.p === 'f'"}], "mark": {"type": "tick", "orient": "horizontal", "color": "black", "size": 12.5, "thickness": 2.2, "opacity": 1},
 "encoding": {
  "x": {"field": "n", "type": "ordinal", "title": "Sample Size", "scale": {"type": "band"}},
  "xOffset": {"field": "g", "type": "nominal"},
  "y": {"field": "hi", "type": "quantitative", "title": null}}},
{"transform": [{"filter": "datum.p === 'f'"}], "mark": {"type": "tick", "orient": "horizontal", "color": "black", "size": 12.5, "thickness": 2.2, "opacity": 1},
 "encoding": {
  "x": {"field": "n", "type": "ordinal", "title": "Sample Size", "scale": {"type": "band"}},
  "xOffset": {"field": "g", "type": "nominal"},
  "y": {"field": "lo", "type": "quantitative", "title": null}}}
]
}
]
}
]
}
